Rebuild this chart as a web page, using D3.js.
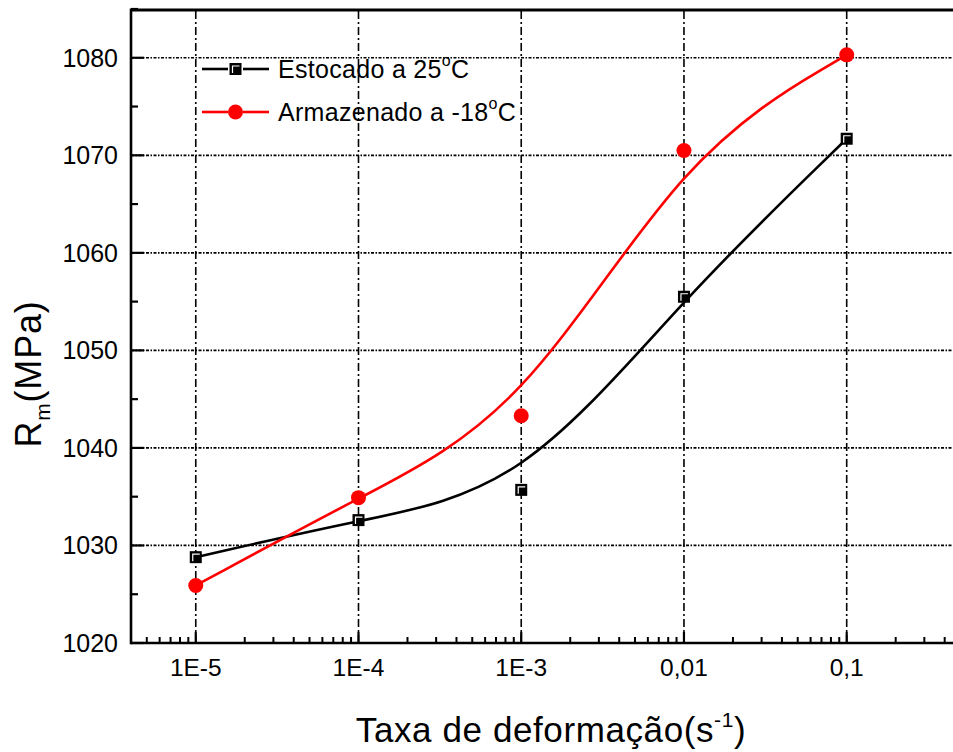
<!DOCTYPE html>
<html><head><meta charset="utf-8">
<script src="https://cdn.jsdelivr.net/npm/d3@7"></script>
<style>
html,body{margin:0;padding:0;background:#fff;}
svg{display:block;font-family:Arial,"Liberation Sans",sans-serif;}
</style></head>
<body><svg id="c" width="953" height="752"></svg>
<script>
const rates = [1e-5, 1e-4, 1e-3, 1e-2, 1e-1];
const stored25 = [1028.8, 1032.6, 1035.7, 1055.5, 1071.7];
const stored18 = [1025.9, 1034.9, 1043.3, 1070.5, 1080.3];
const seriesNames = ["Estocado a 25", "Armazenado a -18"];
const xTickLabels = ["1E-5", "1E-4", "1E-3", "0,01", "0,1"];
const yTicks = [1020, 1030, 1040, 1050, 1060, 1070, 1080];

const svg = d3.select("#c");
const L = 131, R = 953, T = 9, B = 643;
const x = d3.scaleLog().domain([4e-6, 0.45]).range([L, R]);
const y = d3.scaleLinear().domain([1020, 1085]).range([B, T]);

// grid
svg.append("g").attr("class", "vgrid").selectAll("line").data(rates).join("line")
  .attr("x1", d => x(d)).attr("x2", d => x(d)).attr("y1", T + 2).attr("y2", B)
  .attr("stroke", "#000").attr("stroke-width", 1.6).attr("stroke-dasharray", "8,3,2,3");
svg.append("g").attr("class", "hgrid").selectAll("line").data(yTicks.slice(1)).join("line")
  .attr("x1", L).attr("x2", R).attr("y1", d => y(d)).attr("y2", d => y(d))
  .attr("stroke", "#000").attr("stroke-width", 1.7).attr("stroke-dasharray", "3,1.5,1.5,1.5");

// minor x ticks
const minorX = [];
for (let e = -6; e <= -1; e++) for (let m = 2; m <= 9; m++) {
  const v = m * Math.pow(10, e);
  if (v >= 4e-6 && v <= 0.45) minorX.push(v);
}
svg.append("g").selectAll("line").data(minorX).join("line")
  .attr("x1", d => x(d)).attr("x2", d => x(d)).attr("y1", B).attr("y2", B - 6)
  .attr("stroke", "#000").attr("stroke-width", 2);
svg.append("g").selectAll("line").data(rates).join("line")
  .attr("x1", d => x(d)).attr("x2", d => x(d)).attr("y1", B).attr("y2", B - 11)
  .attr("stroke", "#000").attr("stroke-width", 2.2);
// y ticks
const minorY = d3.range(1025, 1086, 10);
svg.append("g").selectAll("line").data(minorY).join("line")
  .attr("x1", L).attr("x2", L + 7).attr("y1", d => y(d)).attr("y2", d => y(d))
  .attr("stroke", "#000").attr("stroke-width", 2.2);
svg.append("g").selectAll("line").data(yTicks).join("line")
  .attr("x1", L).attr("x2", L + 13).attr("y1", d => y(d)).attr("y2", d => y(d))
  .attr("stroke", "#000").attr("stroke-width", 2.2);

// axes lines
svg.append("line").attr("x1", L).attr("x2", R + 5).attr("y1", B).attr("y2", B).attr("stroke", "#000").attr("stroke-width", 2.6);
svg.append("line").attr("x1", L).attr("x2", R + 5).attr("y1", T + 1).attr("y2", T + 1).attr("stroke", "#000").attr("stroke-width", 3);
svg.append("line").attr("x1", L).attr("x2", L).attr("y1", T - 0.5).attr("y2", B + 1.3).attr("stroke", "#000").attr("stroke-width", 2.6);

// tick labels
svg.append("g").selectAll("text").data(rates).join("text")
  .attr("x", d => x(d)).attr("y", 676).attr("text-anchor", "middle")
  .attr("font-size", 24.5).text((d, i) => xTickLabels[i]);
svg.append("g").selectAll("text").data(yTicks).join("text")
  .attr("x", 118).attr("y", d => y(d) + 9).attr("text-anchor", "end")
  .attr("font-size", 25).text(d => d);

// axis titles
const xt = svg.append("text").attr("x", 551).attr("y", 742).attr("text-anchor", "middle")
  .attr("font-size", 35).attr("letter-spacing", 0.6);
xt.append("tspan").text("Taxa de deformação(s");
xt.append("tspan").attr("font-size", 21).attr("dy", -15).text("-1");
xt.append("tspan").attr("dy", 15).text(")");

const yt = svg.append("text").attr("transform", "translate(41,374) rotate(-90)").attr("text-anchor", "middle")
  .attr("font-size", 36).attr("letter-spacing", 0.8);
yt.append("tspan").text("R");
yt.append("tspan").attr("font-size", 21).attr("dy", 9).text("m");
yt.append("tspan").attr("dy", -9).text("(MPa)");

// curves
const line = d3.line().curve(d3.curveBasis).x(d => x(d[0])).y(d => y(d[1]));
const blackPts = rates.map((r, i) => [r, stored25[i]]);
const redPts = rates.map((r, i) => [r, stored18[i]]);
svg.append("path").attr("d", line(blackPts)).attr("fill", "none").attr("stroke", "#000").attr("stroke-width", 2.6);
svg.append("path").attr("d", line(redPts)).attr("fill", "none").attr("stroke", "#ff0000").attr("stroke-width", 2.6);

function square(sel, cx, cy) {
  sel.append("rect").attr("x", cx - 6).attr("y", cy - 6).attr("width", 12).attr("height", 12).attr("fill", "#000");
  sel.append("path").attr("d", `M${cx - 3},${cy + 4}V${cy - 3}H${cx + 4}`).attr("fill", "none").attr("stroke", "#fff").attr("stroke-width", 1.2);
}
const ms = svg.append("g");
blackPts.forEach(p => square(ms, x(p[0]), y(p[1])));
svg.append("g").selectAll("circle").data(redPts).join("circle")
  .attr("cx", d => x(d[0])).attr("cy", d => y(d[1])).attr("r", 7.5).attr("fill", "#ff0000");

// legend
const lg = svg.append("g");
const legY = [69, 112];
const cols = ["#000", "#ff0000"];
legY.forEach((ly, i) => {
  lg.append("line").attr("x1", 202).attr("x2", 228).attr("y1", ly).attr("y2", ly).attr("stroke", cols[i]).attr("stroke-width", 2.6);
  lg.append("line").attr("x1", 243).attr("x2", 269).attr("y1", ly).attr("y2", ly).attr("stroke", cols[i]).attr("stroke-width", 2.6);
  if (i === 0) square(lg, 235.5, ly);
  else lg.append("circle").attr("cx", 235.5).attr("cy", ly).attr("r", 7.5).attr("fill", cols[i]);
  const t = lg.append("text").attr("x", 278).attr("y", ly + 9).attr("font-size", 25).attr("letter-spacing", 0.3);
  t.append("tspan").text(seriesNames[i]);
  t.append("tspan").attr("font-size", 16).attr("dy", -12).text("o");
  t.append("tspan").attr("dy", 12).text("C");
});
</script></body></html>
